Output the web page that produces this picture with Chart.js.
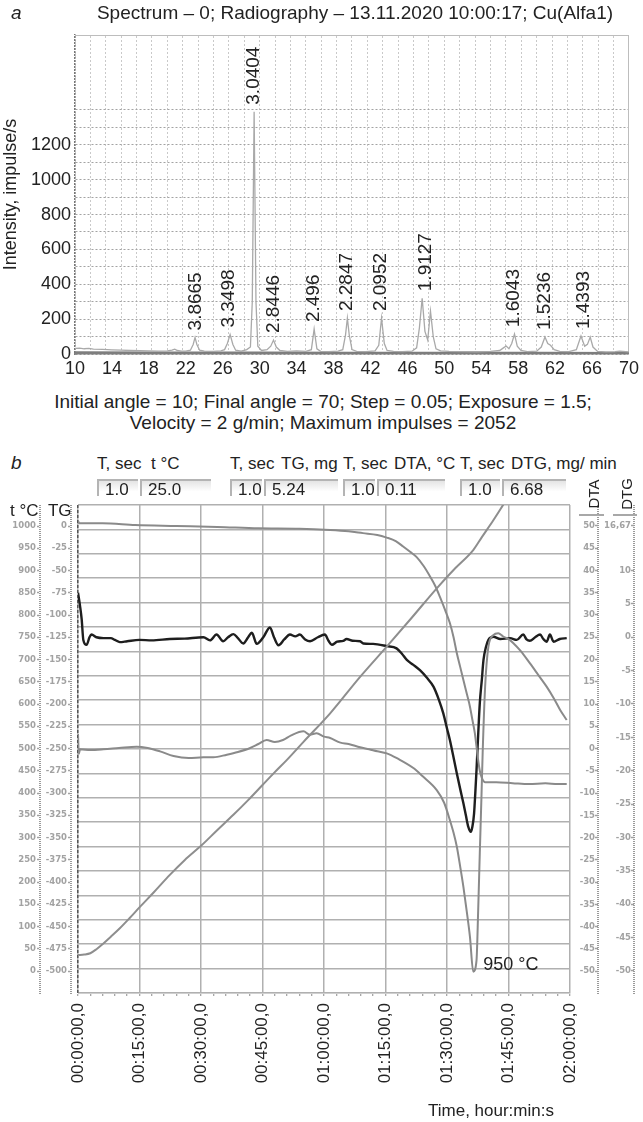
<!DOCTYPE html>
<html>
<head>
<meta charset="utf-8">
<script src="https://cdn.jsdelivr.net/npm/chart.js@4.4.1/dist/chart.umd.min.js"></script>
<style>
  body { margin: 0; background: #fff; }
  #page { position: relative; width: 643px; height: 1122px; overflow: hidden; background: #fff;
          font-family: "Liberation Sans", Arial, Helvetica, sans-serif; color: #222; }
  canvas { position: absolute; left: 0; }
  .t { position: absolute; white-space: nowrap; line-height: 1; }
  .h { position: absolute; white-space: nowrap; line-height: 1; top: 455px; font-size: 17px; }
  .it { font-style: italic; }
  .box { position: absolute; top: 479px; height: 17px; border-top: 2px solid #b4b4b4; border-left: 2px solid #b4b4b4;
         background: linear-gradient(to bottom, #e4e4e4, #ffffff 70%); font-size: 17px; line-height: 17px;
         padding-left: 6px; box-sizing: border-box; }
  .rot { position: absolute; transform: translate(-50%, -50%) rotate(-90deg); white-space: nowrap; line-height: 1; font-size: 15px; }
  .uline { position: absolute; height: 2px; background: #a8a8a8; }
</style>
</head>
<body>
<div id="page">
  <canvas id="spec" width="643" height="385" style="top:0"></canvas>
  <canvas id="dta" width="643" height="627" style="top:495px"></canvas>

  <div class="t it" style="left:11px;top:3px;font-size:19px">a</div>
  <div class="t" style="left:0;width:710px;text-align:center;top:3px;font-size:19px">Spectrum – 0; Radiography – 13.11.2020 10:00:17; Cu(Alfa1)</div>
  <div class="t" style="left:0;width:646px;text-align:center;top:392px;font-size:19px">Initial angle = 10; Final angle = 70; Step = 0.05; Exposure = 1.5;</div>
  <div class="t" style="left:0;width:646px;text-align:center;top:413px;font-size:19px">Velocity = 2 g/min; Maximum impulses = 2052</div>

  <div class="t it" style="left:11px;top:453px;font-size:19px">b</div>
  <div class="h" style="left:97px">T, sec</div>
  <div class="h" style="left:151px">t °C</div>
  <div class="h" style="left:230px">T, sec</div>
  <div class="h" style="left:281px">TG, mg</div>
  <div class="h" style="left:343px">T, sec</div>
  <div class="h" style="left:394px">DTA, °C</div>
  <div class="h" style="left:460px">T, sec</div>
  <div class="h" style="left:511px">DTG, mg/ min</div>

  <div class="box" style="left:97px;width:41px">1.0</div>
  <div class="box" style="left:140px;width:71px">25.0</div>
  <div class="box" style="left:230px;width:32px">1.0</div>
  <div class="box" style="left:264px;width:74px">5.24</div>
  <div class="box" style="left:343px;width:32px">1.0</div>
  <div class="box" style="left:377px;width:68px">0.11</div>
  <div class="box" style="left:460px;width:40px">1.0</div>
  <div class="box" style="left:502px;width:64px">6.68</div>

  <div class="t" style="left:10px;top:502px;font-size:17px">t °C&nbsp;&nbsp;TG</div>
  <div class="rot" style="left:593px;top:494px">DTA</div>
  <div class="rot" style="left:626px;top:494px">DTG</div>
  <div class="uline" style="left:579px;top:514px;width:25px"></div>
  <div class="uline" style="left:613px;top:514px;width:24px"></div>

  <div class="t" style="left:428px;top:1102px;font-size:17px">Time, hour:min:s</div>
</div>

<script>
// ---------- panel a: X-ray spectrum ----------
const specAngle = [10.0, 10.5, 11.0, 11.5, 12.0, 13.0, 14.0, 15.0, 16.0, 17.0, 18.0, 19.0, 20.0, 20.5, 20.8, 21.1, 21.5,
  22.0, 22.5, 22.8, 23.0, 23.2, 23.5, 24.0, 25.0, 25.8, 26.2, 26.5, 26.8, 27.1, 27.4, 28.0, 28.6, 29.0, 29.2, 29.4,
  29.6, 29.8, 30.2, 30.8, 31.2, 31.5, 31.8, 32.2, 33.0, 34.0, 35.0, 35.6, 35.9, 36.2, 36.6, 37.5, 38.5, 39.0, 39.3,
  39.5, 39.7, 40.0, 40.5, 41.5, 42.5, 42.9, 43.2, 43.5, 43.8, 44.5, 45.5, 46.5, 47.0, 47.3, 47.6, 47.9, 48.2, 48.5,
  48.8, 49.1, 49.6, 50.5, 52.0, 53.5, 55.0, 56.0, 56.4, 56.7, 57.0, 57.3, 57.6, 57.9, 58.3, 59.0, 60.0, 60.5, 60.9,
  61.2, 61.5, 61.9, 62.5, 63.5, 64.3, 64.8, 65.2, 65.5, 65.8, 66.1, 66.6, 67.5, 68.5, 69.0, 70.0];
const specInt = [32, 34, 30, 32, 28, 26, 24, 22, 20, 19, 18, 17, 18, 22, 28, 20, 16,
  16, 22, 55, 95, 55, 22, 16, 15, 18, 25, 60, 112, 55, 22, 16, 25, 40, 300, 1390,
  300, 45, 20, 25, 45, 80, 40, 20, 15, 18, 15, 25, 143, 30, 15, 14, 16, 25, 110,
  206, 110, 25, 15, 14, 18, 50, 206, 60, 20, 15, 14, 16, 35, 150, 320, 130, 80, 246,
  100, 30, 18, 15, 14, 13, 15, 20, 35, 46, 30, 60, 114, 45, 20, 14, 16, 40, 97,
  60, 50, 25, 15, 14, 25, 103, 45, 55, 97, 40, 15, 12, 14, 16, 12];
const bgAngle = [10, 20, 30, 40, 50, 60, 70];
const bgInt = [10, 8, 8, 7, 7, 7, 6];

const xTicks = [10, 14, 18, 22, 26, 30, 34, 38, 42, 46, 50, 54, 58, 62, 66, 70];
const yTicks = [0, 200, 400, 600, 800, 1000, 1200];

const peakLabels = ['3.8665', '3.3498', '3.0404', '2.8446', '2.496', '2.2847', '2.0952', '1.9127', '1.6043', '1.5236', '1.4393'];
const peakAngle = [23.1, 26.7, 29.4, 31.5, 35.9, 39.4, 43.1, 48.0, 57.5, 60.9, 65.1];
const peakBase = [95, 112, 1390, 80, 143, 206, 206, 320, 114, 97, 103];

// ---------- panel b: thermal analysis ----------
const tempTime = [0, 1.5, 3, 4.5, 6.2, 8, 10.2, 12.5, 15.1, 18.5, 22.4, 26, 30.2, 34, 37.9, 41.5, 45, 48, 50.9, 55,
  61.5, 68.8, 75.3, 81.5, 87.5, 92, 96.4, 98.5, 101.3, 104];
const tempVal = [36, 37, 40, 49, 62, 77, 96, 118, 144, 177, 216, 249, 283, 317, 351, 384, 418, 447, 474, 515,
  579, 661, 729, 795, 860, 905, 946, 975, 1013, 1052];

const tgTime = [0, 0.3, 6, 14, 24, 34, 44, 54, 61.5, 66, 69.5, 73, 75.3, 77.5, 79.3, 81, 82.6, 84.3, 85.9, 87.2,
  88.3, 89.5, 90.7, 91.6, 92.4, 93.2, 94, 94.8, 95.6, 96.2, 96.8, 97.2, 97.6, 98.0, 98.5, 99.3, 102, 106, 110, 114,
  117, 119.2];
const tgVal = [6, 3, 3, 1, 0, -1, -2.5, -3, -4.5, -6, -8, -10, -13, -17, -23, -29, -35, -45, -57, -68,
  -80, -94, -109, -125, -143, -158, -173, -188, -203, -218, -233, -248, -263, -275, -283, -288, -288, -289, -290, -289,
  -290, -290];

const dtaTime = [0, 0.5, 0.9, 1.3, 2.1, 2.8, 3.3, 4.5, 6.2, 8, 9, 10.2, 12, 15, 18, 22.4, 26, 30.6, 32.2, 33.8,
  35.4, 36.6, 37.9, 39, 40.3, 41.5, 42.4, 43.6, 45.2, 46.8, 47.8, 48.9, 50.3, 51.7, 53, 54.1, 55.4, 56.6, 58.5, 60.2,
  61.1, 61.9, 63.2, 64.7, 65.5, 67, 68.8, 69.6, 72, 75.3, 77.7, 79, 80.2, 81.8, 83.4, 85, 86.7, 88, 89.1, 90,
  90.7, 91.6, 92.4, 93.2, 94, 94.6, 95.2, 95.8, 96.2, 96.6, 96.9, 97.2, 97.6, 98, 98.5, 98.9, 99.5, 100.1, 101.3, 103,
  105.4, 107, 108.6, 109.4, 110.2, 111.5, 112.7, 113.5, 114.3, 115.1, 116, 117.5, 119.2];
const dtaVal = [35, 32, 29, 24.4, 23.3, 25, 25.6, 25, 24.8, 24.8, 24.4, 23.9, 24.1, 24.4, 24.3, 24.6, 24.7, 25, 24.3, 25.6,
  24.1, 25, 25.7, 24.8, 23.6, 25, 26, 23.5, 25, 27.2, 25, 23.2, 24.5, 25.6, 25.2, 25.6, 24.5, 24.1, 25, 25.6,
  24.2, 23.3, 24, 24.2, 24.6, 24.2, 24.1, 23.6, 23.5, 23, 22.5, 21.3, 19.9, 18.8, 17.6, 16, 13.9, 11, 7.9, 4.5,
  1.9, -2, -5.6, -9, -12.3, -15, -17.6, -18.7, -17.5, -14.6, -10, -4.8, 3, 10.2, 15.5, 19.9, 22.8, 24.4, 25.1, 24.6,
  24.8, 24.4, 25.6, 24.5, 24.2, 25, 25.6, 24.6, 24, 25.6, 24, 24.6, 24.8];

const dtgTime = [0, 0.2, 0.5, 3, 6.2, 10, 14.3, 17, 20, 23.3, 27, 30.6, 33, 36.3, 39, 42, 44, 46, 48, 50,
  52, 55, 56.5, 58.2, 60, 61.5, 64, 66, 68.8, 71, 73, 75.3, 78, 81.8, 84, 87.5, 89.3, 90.7, 91.6, 92.4,
  93.2, 94, 94.8, 95.6, 96.4, 97.2, 97.6, 98, 98.4, 98.7, 99.3, 100.1, 101.3, 102.5, 103.7, 105, 106.2, 108, 110.2, 112.2,
  114.3, 116, 117.6, 119.2];
const dtgVal = [-14.5, -17.5, -16.8, -16.9, -16.8, -16.6, -16.4, -16.6, -17.1, -17.8, -18.1, -18, -18, -17.6, -17.2, -16.6, -16, -15.4, -15.7, -15.4,
  -14.7, -14.1, -14.6, -14.4, -14.9, -15.1, -15.8, -16, -16.5, -16.8, -17.1, -17.4, -18.2, -19.6, -20.8, -22.9, -24.8, -27.4, -29.3, -31.4,
  -34.3, -37.4, -41, -44.9, -50.1, -48.4, -41, -32.3, -24, -17.3, -7.4, -1.4, 0.3, 0.6, 0.1, -0.3, -0.9, -2.1, -3.9, -5.6,
  -7.4, -9.1, -10.9, -12.4];

const timeLabels = ['00:00:00,0', '00:15:00,0', '00:30:00,0', '00:45:00,0', '01:00:00,0', '01:15:00,0', '01:30:00,0', '01:45:00,0', '02:00:00,0'];
const tTicks = [0, 50, 100, 150, 200, 250, 300, 350, 400, 450, 500, 550, 600, 650, 700, 750, 800, 850, 900, 950, 1000];
const tgTicks = [0, -25, -50, -75, -100, -125, -150, -175, -200, -225, -250, -275, -300, -325, -350, -375, -400, -425, -450, -475, -500];
const dtaTicks = [50, 45, 40, 35, 30, 25, 20, 15, 10, 5, 0, -5, -10, -15, -20, -25, -30, -35, -40, -45, -50];
const dtgTicks = [16.67, 10, 5, 0, -5, -10, -15, -20, -25, -30, -35, -40, -45, -50];
const dtgTickLabels = ['16,67', '10', '5', '0', '-5', '-10', '-15', '-20', '-25', '-30', '-35', '-40', '-45', '-50'];

const peakNote = '950 °C';
const peakNoteTime = 96.4;
const peakNoteVal = -50.1;

const FONT = '"Liberation Sans", Arial, Helvetica, sans-serif';
const pts = (xs, ys) => xs.map((v, i) => ({ x: v, y: ys[i] }));

// dotted stroke made from a tiny repeating pattern
function dotted(color, on, off) {
  const c = document.createElement('canvas');
  c.width = 1; c.height = on + off;
  const g = c.getContext('2d');
  g.fillStyle = color;
  g.fillRect(0, 0, 1, on);
  return g.createPattern(c, 'repeat');
}

const peakLabelPlugin = {
  id: 'peakLabels',
  afterDatasetsDraw(chart) {
    const { ctx, scales: { x, y } } = chart;
    ctx.save();
    ctx.font = '19px ' + FONT;
    ctx.fillStyle = '#222';
    ctx.textAlign = 'left';
    ctx.textBaseline = 'middle';
    peakLabels.forEach((txt, i) => {
      const px = x.getPixelForValue(peakAngle[i]);
      const py = y.getPixelForValue(peakBase[i]) - 7;
      ctx.save();
      ctx.translate(px, py);
      ctx.rotate(-Math.PI / 2);
      ctx.fillText(txt, 0, 0);
      ctx.restore();
    });
    ctx.restore();
  }
};

new Chart(document.getElementById('spec'), {
  type: 'line',
  data: {
    datasets: [
      { data: pts(specAngle, specInt), borderColor: '#a9a9a9', borderWidth: 1.3, pointRadius: 0, tension: 0 },
      { data: pts(bgAngle, bgInt), borderColor: '#7d7d7d', borderWidth: 2, pointRadius: 0, tension: 0 }
    ]
  },
  options: {
    responsive: false,
    animation: false,
    layout: { padding: { top: 35, left: 0, right: 0, bottom: 0 } },
    plugins: { legend: { display: false }, tooltip: { enabled: false } },
    scales: {
      x: {
        type: 'linear', min: 10, max: 70, position: 'bottom',
        afterBuildTicks: s => { s.ticks = xTicks.map(v => ({ value: v })); },
        afterFit: s => { s.height = 31; },
        grid: { display: false, drawTicks: false },
        border: { color: '#808080', width: 1.5 },
        ticks: { font: { size: 18, family: FONT }, color: '#222', padding: 4, maxRotation: 0, autoSkip: false }
      },
      xg: {
        type: 'linear', axis: 'x', min: 0, max: 36, position: 'top',
        afterFit: s => { s.height = 0; },
        ticks: { display: false, stepSize: 1 },
        grid: { color: '#c9c9c9', lineWidth: 1, drawTicks: false },
        border: { display: true, color: '#bdbdbd', width: 1, dash: [2, 2] }
      },
      y: {
        type: 'linear', min: 0, max: 1830, position: 'left',
        afterFit: s => { s.width = 75; },
        grid: {
          color: c => (c.tick.value <= 1400 ? '#a3a3a3' : 'rgba(0,0,0,0)'),
          lineWidth: 1, drawTicks: false
        },
        border: { display: true, color: dotted('#777', 2, 1), width: 1.5, dash: [2, 2] },
        ticks: {
          stepSize: 100, autoSkip: false, padding: 4,
          font: { size: 18, family: FONT }, color: '#222',
          callback: v => (yTicks.includes(v) ? String(v) : '')
        },
        title: { display: true, text: 'Intensity, impulse/s', font: { size: 18, family: FONT }, color: '#222', padding: { top: 0, bottom: 2 } }
      },
      yR: {
        type: 'linear', axis: 'y', position: 'right', min: 0, max: 1,
        afterFit: s => { s.width = 10; },
        ticks: { display: false },
        grid: { display: false },
        border: { display: true, color: '#bdbdbd', width: 1 }
      }
    }
  },
  plugins: [peakLabelPlugin]
});

// ---------- panel b chart ----------
const GRAYTXT = '#a2a2a2';
const SMALL = { family: '"DejaVu Sans", Verdana, sans-serif', size: 8.5, weight: 'bold' };
const tickMarks = { display: true, drawOnChartArea: false, drawTicks: true, tickLength: 3, tickColor: GRAYTXT, tickWidth: 1.5 };
const noGrid = { display: false };

const notePlugin = {
  id: 'peakNote',
  afterDatasetsDraw(chart) {
    const { ctx, scales } = chart;
    const px = scales.x.getPixelForValue(peakNoteTime);
    const py = scales.dtg.getPixelForValue(peakNoteVal);
    ctx.save();
    ctx.font = '18px ' + FONT;
    ctx.fillStyle = '#222';
    ctx.textAlign = 'left';
    ctx.textBaseline = 'middle';
    ctx.fillText(peakNote, px + 10, py - 7);
    ctx.restore();
  }
};

const sideAxis = (pos, weight, w, min, max, ticksArr, extra) => Object.assign({
  type: 'linear', axis: 'y', position: pos, weight: weight, min: min, max: max,
  afterBuildTicks: s => { s.ticks = ticksArr.map(v => ({ value: v })); },
  afterFit: s => { s.width = w; }
}, extra);

const smooth = { pointRadius: 0, cubicInterpolationMode: 'monotone' };

new Chart(document.getElementById('dta'), {
  type: 'line',
  data: {
    datasets: [
      Object.assign({ label: 't', data: pts(tempTime, tempVal), yAxisID: 't', borderColor: '#8e8e8e', borderWidth: 2 }, smooth),
      Object.assign({ label: 'TG', data: pts(tgTime, tgVal), yAxisID: 'tg', borderColor: '#8a8a8a', borderWidth: 2 }, smooth),
      Object.assign({ label: 'DTG', data: pts(dtgTime, dtgVal), yAxisID: 'dtg', borderColor: '#8a8a8a', borderWidth: 2 }, smooth),
      Object.assign({ label: 'DTA', data: pts(dtaTime, dtaVal), yAxisID: 'dta', borderColor: '#1e1e1e', borderWidth: 2.4 }, smooth)
    ]
  },
  options: {
    responsive: false,
    animation: false,
    layout: { padding: { top: 10, left: 0, right: 0, bottom: 0 } },
    plugins: { legend: { display: false }, tooltip: { enabled: false } },
    scales: {
      x: {
        type: 'linear', min: 0, max: 120, position: 'bottom',
        afterFit: s => { s.height = 129; },
        grid: {
          color: c => (c.tick.value % 15 === 0 ? '#b0b0b0' : 'rgba(0,0,0,0)'),
          lineWidth: 1.5, tickColor: '#8a8a8a', tickLength: 3, tickWidth: 1
        },
        border: { display: true, color: '#cfcfcf', width: 1 },
        ticks: {
          stepSize: 3, autoSkip: false, minRotation: 90, maxRotation: 90, padding: 7,
          font: { size: 17, family: FONT }, color: '#222',
          callback: v => (v % 15 === 0 ? timeLabels[v / 15] : '')
        }
      },
      yg: {
        type: 'linear', axis: 'y', position: 'left', weight: 0, min: 0, max: 20,
        afterFit: s => { s.width = 0; },
        ticks: { display: false, stepSize: 1 },
        grid: { color: '#b0b0b0', lineWidth: 1.5, drawTicks: false },
        border: { display: false }
      },
      dL: sideAxis('left', 1, 7, 0, 1, [], {
        ticks: { display: false }, grid: noGrid,
        border: { display: true, color: dotted('#555', 3, 2), width: 1.5 }
      }),
      tg: sideAxis('left', 2, 31, -524.7, 23.6, tgTicks, {
        grid: tickMarks,
        border: { display: true, color: dotted('#9a9a9a', 1, 1), width: 2 },
        ticks: { font: SMALL, color: GRAYTXT, padding: 1, callback: v => String(v) }
      }),
      t: sideAxis('left', 3, 40, -49.4, 1047.2, tTicks, {
        grid: tickMarks,
        border: { display: true, color: dotted('#9a9a9a', 1, 1), width: 2 },
        ticks: { font: SMALL, color: GRAYTXT, padding: 1, callback: v => String(v) }
      }),
      dta: sideAxis('right', 0, 25, -54.9, 54.7, dtaTicks, {
        grid: noGrid, border: { display: false },
        ticks: { font: SMALL, color: GRAYTXT, crossAlign: 'far', padding: 0, callback: v => String(v) }
      }),
      dtaMark: sideAxis('right', 1, 3, -54.9, 54.7, dtaTicks, {
        grid: tickMarks, border: { display: false }, ticks: { display: false }
      }),
      dtg: sideAxis('right', 2, 33, -53.3, 19.8, dtgTicks, {
        grid: noGrid,
        border: { display: true, color: dotted('#9a9a9a', 1, 1), width: 2 },
        ticks: { font: SMALL, color: GRAYTXT, crossAlign: 'far', padding: 0, callback: (v, i) => dtgTickLabels[i] }
      }),
      dtgMark: sideAxis('right', 3, 3, -53.3, 19.8, dtgTicks, {
        grid: tickMarks, border: { display: false }, ticks: { display: false }
      }),
      dR: sideAxis('right', 4, 9, 0, 1, [], {
        ticks: { display: false }, grid: noGrid,
        border: { display: true, color: dotted('#9a9a9a', 1, 1), width: 2 }
      })
    }
  },
  plugins: [notePlugin]
});
</script>
</body>
</html>
